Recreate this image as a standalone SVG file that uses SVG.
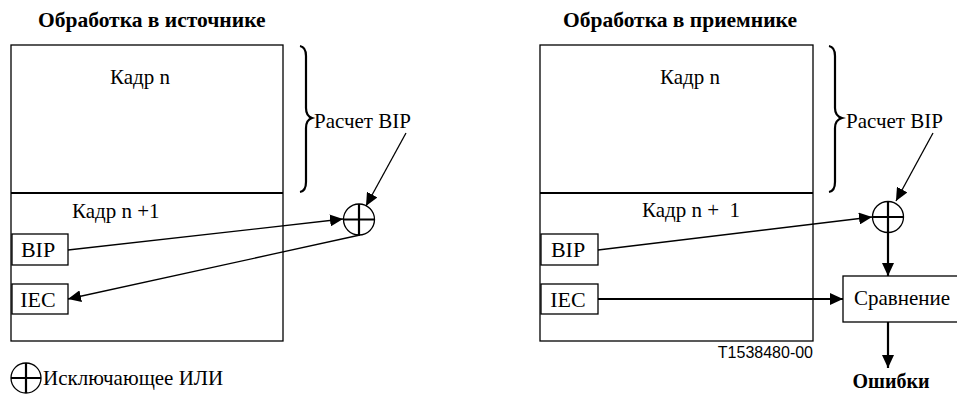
<svg xmlns="http://www.w3.org/2000/svg" width="957" height="394" viewBox="0 0 957 394">
<style>
.t{font-family:"Liberation Serif","Times New Roman",serif;font-size:21px;fill:#000}
.b{font-weight:bold;font-size:21.5px}
.k{font-size:22px}
.s{font-family:"Liberation Sans",Arial,sans-serif;font-size:16px;fill:#000}
.box{fill:#fff;stroke:#000;stroke-width:1.3}
.div{stroke:#000;stroke-width:2.2;fill:none}
.thin{stroke:#000;stroke-width:1.3;fill:none}
.thick{stroke:#000;stroke-width:2.2;fill:none}
.brace{stroke:#000;stroke-width:2.2;fill:none}
.xor{fill:#fff;stroke:#000;stroke-width:1.3}
</style>
<defs>
<marker id="ah" markerUnits="userSpaceOnUse" markerWidth="14" markerHeight="12" refX="13" refY="6" orient="auto">
<path d="M0,0 L13,6 L0,12 z" fill="#000"/>
</marker>
</defs>

<text class="t b" x="38" y="27">Обработка в источнике</text>
<text class="t b" x="563" y="27">Обработка в приемнике</text>

<g id="src-frame">
<rect class="box" x="11" y="45" width="272" height="296"/>
<line class="div" x1="11" y1="193" x2="283" y2="193"/>
<text class="t" x="140" y="84" text-anchor="middle">Кадр n</text>
<text class="t" x="72" y="218">Кадр n +1</text>
</g>
<g id="src-bip">
<rect class="box" x="12" y="234" width="56" height="31"/>
<text class="t k" x="38" y="257" text-anchor="middle">BIP</text>
</g>
<g id="src-iec">
<rect class="box" x="12" y="284" width="56" height="30"/>
<text class="t k" x="38" y="307" text-anchor="middle">IEC</text>
</g>
<g id="src-brace">
<path class="brace" d="M300,46 Q306,47 306,56 L306,108 Q306,116 312,118 Q306,120 306,128 L306,182 Q306,191 300,192"/>
<text class="t" x="314" y="128">Расчет BIP</text>
</g>
<g id="src-xor">
<circle class="xor" cx="359" cy="219.5" r="15.5"/>
<path class="thick" d="M343.5,219.5 H374.5 M359,204 V235"/>
</g>

<g id="dst-frame">
<rect class="box" x="540" y="45" width="273" height="296"/>
<line class="div" x1="540" y1="193" x2="813" y2="193"/>
<text class="t" x="690" y="84" text-anchor="middle">Кадр n</text>
<text class="t" x="642" y="217" style="white-space:pre">Кадр n +  1</text>
</g>
<g id="dst-bip">
<rect class="box" x="541" y="234" width="57" height="31"/>
<text class="t k" x="568" y="257" text-anchor="middle">BIP</text>
</g>
<g id="dst-iec">
<rect class="box" x="541" y="284" width="57" height="30"/>
<text class="t k" x="568" y="307" text-anchor="middle">IEC</text>
</g>
<g id="dst-brace">
<path class="brace" d="M829,46 Q835,47 835,56 L835,108 Q835,116 842,118 Q835,120 835,128 L835,182 Q835,191 829,192"/>
<text class="t" x="846" y="128">Расчет BIP</text>
</g>
<g id="dst-xor">
<circle class="xor" cx="888" cy="217" r="15.5"/>
<path class="thick" d="M872.5,217 H903.5 M888,201.5 V232.5"/>
</g>
<g id="compare">
<rect class="box" x="843" y="276" width="120" height="46"/>
<text class="t" x="854" y="305">Сравнение</text>
</g>
<g id="errors">
<text class="t b" x="891" y="388" text-anchor="middle" style="font-size:20px">Ошибки</text>
</g>
<text class="s" x="813" y="358" text-anchor="end">T1538480-00</text>

<g id="legend">
<circle class="xor" cx="26" cy="378" r="15"/>
<path class="thick" d="M11,378 H41 M26,363 V393"/>
<text class="t" x="43" y="385">Исключающее ИЛИ</text>
</g>

<g id="connectors">
<line class="thin" x1="406" y1="133" x2="366" y2="206" marker-end="url(#ah)"/>
<line class="thin" x1="68" y1="250" x2="343" y2="219" marker-end="url(#ah)"/>
<line class="thin" x1="360" y1="235" x2="68" y2="299" marker-end="url(#ah)"/>
<line class="thin" x1="933" y1="133" x2="896" y2="201" marker-end="url(#ah)"/>
<line class="thin" x1="598" y1="250" x2="872" y2="217" marker-end="url(#ah)"/>
<line class="thick" x1="888" y1="232.5" x2="888" y2="276" marker-end="url(#ah)"/>
<line class="thick" x1="598" y1="299" x2="843" y2="299" marker-end="url(#ah)"/>
<line class="thick" x1="888" y1="322" x2="888" y2="368" marker-end="url(#ah)"/>
</g>
</svg>
